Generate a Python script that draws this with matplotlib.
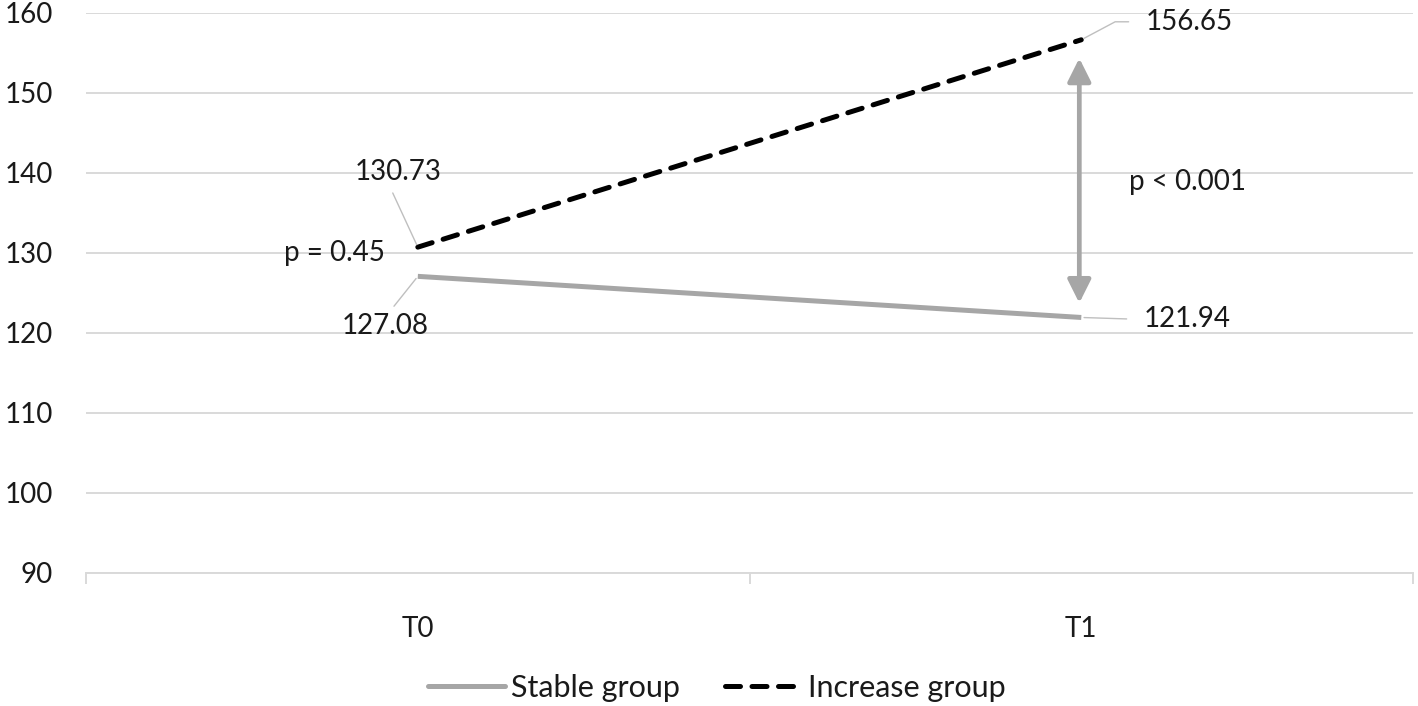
import matplotlib.pyplot as plt
from matplotlib.lines import Line2D

# data
times = ['T0', 'T1']
stable = [127.08, 121.94]
increase = [130.73, 156.65]
p_t0 = 'p = 0.45'
p_t1 = 'p < 0.001'

plt.rcParams['font.family'] = ['Lato', 'DejaVu Sans']
txt = '#1a1a1a'
gray = '#a6a6a6'
grid = '#d9d9d9'
fs = 20
dash = (3.0, 2.3)

fig = plt.figure(figsize=(14.18, 7.06), dpi=100)
ax = fig.add_axes([0.0607, 0.1884, 0.9358, 0.7932])

x = list(range(len(times)))
ax.plot(x, stable, color=gray, lw=3.6, solid_capstyle='butt', zorder=3)
ax.plot(x, increase, color='black', lw=3.6, dashes=dash,
        dash_capstyle='round', zorder=3)

ax.set_xlim(-0.5, 1.5)
ax.set_ylim(90, 160)
ax.set_yticks(range(90, 161, 10))
ax.yaxis.grid(True, color=grid, lw=1.4)
ax.set_axisbelow(True)
ax.tick_params(axis='y', length=0, pad=24, labelsize=fs, labelcolor=txt)

# category boundaries get the tick marks, labels sit in the middle
ax.set_xticks([-0.5, 0.5, 1.5])
ax.set_xticklabels([])
ax.tick_params(axis='x', which='major', length=8, color=grid, width=1.4)
ax.set_xticks(x, minor=True)
ax.set_xticklabels(times, minor=True)
ax.tick_params(axis='x', which='minor', length=0, pad=31, labelsize=fs, labelcolor=txt)

for s in ['left', 'right', 'top']:
    ax.spines[s].set_visible(False)
ax.spines['bottom'].set_color(grid)
ax.spines['bottom'].set_linewidth(1.4)

# value labels with leader lines
lead = dict(arrowstyle='-', color='#bfbfbf', lw=1, shrinkA=4, shrinkB=2)
ax.annotate(f'{increase[0]:.2f}', (0, increase[0]), xytext=(-20, 75),
            textcoords='offset pixels', ha='center', va='center',
            fontsize=fs, color=txt, arrowprops=dict(lead, relpos=(0.4, 0)))
ax.annotate(f'{stable[0]:.2f}', (0, stable[0]), xytext=(-33, -50),
            textcoords='offset pixels', ha='center', va='center',
            fontsize=fs, color=txt, arrowprops=dict(lead, relpos=(0.54, 1)))
ax.annotate(f'{increase[1]:.2f}', (1, increase[1]), xytext=(64, 18),
            textcoords='offset pixels', ha='left', va='center',
            fontsize=fs, color=txt,
            arrowprops=dict(lead, relpos=(0, 0.5), shrinkA=10,
                            connectionstyle='angle,angleA=0,angleB=28,rad=0'))
ax.annotate(f'{stable[1]:.2f}', (1, stable[1]), xytext=(62, -2),
            textcoords='offset pixels', ha='left', va='center',
            fontsize=fs, color=txt,
            arrowprops=dict(lead, relpos=(0, 0.5), shrinkA=10))

# p values
ax.text(-0.125, 130.0, p_t0, ha='center', va='center', fontsize=fs, color=txt)
ax.annotate('', xy=(0.997, increase[1] - 2.3), xytext=(0.997, stable[1] + 1.8),
            arrowprops=dict(arrowstyle='<|-|>,head_length=0.7,head_width=0.35',
                            mutation_scale=20, color=gray, lw=3.4,
                            shrinkA=0, shrinkB=0))
ax.text(1.16, 138.9, p_t1, ha='center', va='center', fontsize=fs, color=txt)

handles = [Line2D([], [], color=gray, lw=3.6, solid_capstyle='round'),
           Line2D([], [], color='black', lw=3.6, dashes=dash, dash_capstyle='round')]
fig.legend(handles, ['Stable group', 'Increase group'], loc='center',
           bbox_to_anchor=(0.5056, 0.026), ncol=2, frameon=False,
           fontsize=22, labelcolor=txt, handlelength=2.5, handletextpad=0.2,
           columnspacing=1.5)

fig.savefig('out.png', dpi=100)
